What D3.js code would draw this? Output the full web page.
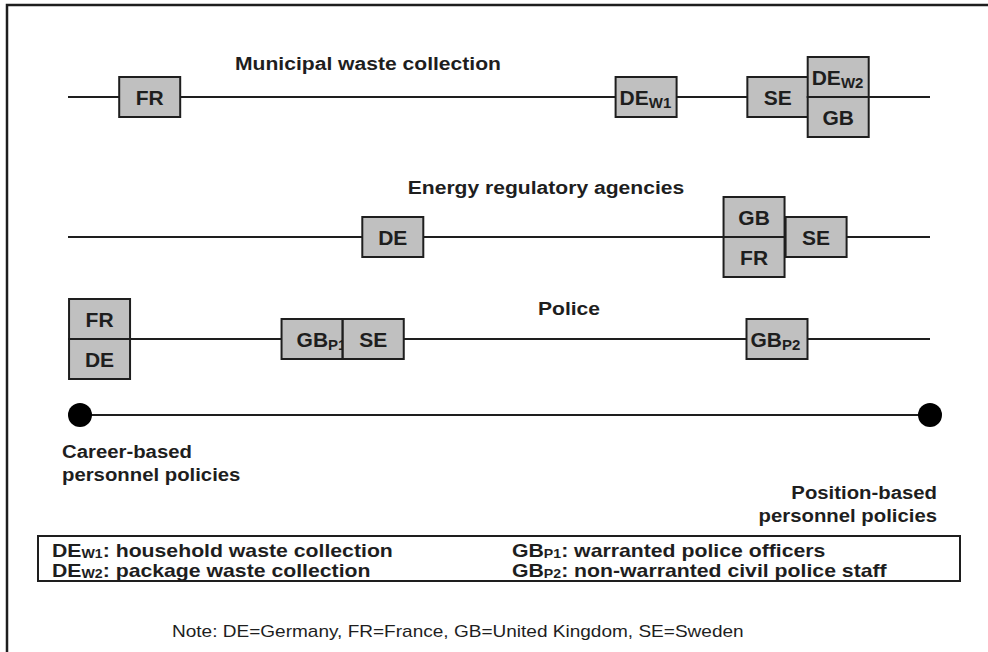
<!DOCTYPE html>
<html>
<head>
<meta charset="utf-8">
<script src="https://cdn.jsdelivr.net/npm/d3@7"></script>
<style>
  body { margin: 0; background: #fff; }
  svg { display: block; font-family: 'Liberation Sans', Arial, sans-serif; }
</style>
</head>
<body>
<div id="chart"></div>
<script>
// sectors, top to bottom
const sectors = ['Municipal waste collection', 'Energy regulatory agencies', 'Police']

// country boxes: sector index, code, subscript, place on the career (0) .. position (100) scale,
// stack: -1 upper half, 0 on the line, 1 lower half
const boxes = [
  { sector: 0, code: 'FR', sub: '', pos: 8.2, stack: 0 },
  { sector: 0, code: 'DE', sub: 'W1', pos: 66.6, stack: 0 },
  { sector: 0, code: 'SE', sub: '', pos: 82.1, stack: 0 },
  { sector: 0, code: 'DE', sub: 'W2', pos: 89.2, stack: -1 },
  { sector: 0, code: 'GB', sub: '', pos: 89.2, stack: 1 },
  { sector: 1, code: 'DE', sub: '', pos: 36.8, stack: 0 },
  { sector: 1, code: 'GB', sub: '', pos: 79.3, stack: -1 },
  { sector: 1, code: 'FR', sub: '', pos: 79.3, stack: 1 },
  { sector: 1, code: 'SE', sub: '', pos: 86.6, stack: 0 },
  { sector: 2, code: 'FR', sub: '', pos: 2.3, stack: -1 },
  { sector: 2, code: 'DE', sub: '', pos: 2.3, stack: 1 },
  { sector: 2, code: 'GB', sub: 'P1', pos: 27.3, stack: 0 },
  { sector: 2, code: 'SE', sub: '', pos: 34.5, stack: 0 },
  { sector: 2, code: 'GB', sub: 'P2', pos: 82.0, stack: 0 }
]

const poles = [['Career-based', 'personnel policies'], ['Position-based', 'personnel policies']]

const legendLeft = [['DE', 'W1', ': household waste collection'], ['DE', 'W2', ': package waste collection']]
const legendRight = [['GB', 'P1', ': warranted police officers'], ['GB', 'P2', ': non-warranted civil police staff']]

const note = 'Note: DE=Germany, FR=France, GB=United Kingdom, SE=Sweden'

const width = 988
const height = 652
const ink = '#1e1e1e'
const boxW = 61
const boxH = 40

const svg = d3.select('#chart').append('svg')
  .attr('width', width)
  .attr('height', height)

// the source figure's lettering is a touch wide, so text is stretched sideways a little
const wide = (x, y, s) => `translate(${x},${y}) scale(${s},1)`

// frame (runs off the right and bottom edge)
svg.append('path')
  .attr('d', `M7,${height + 5}V5H${width + 5}`)
  .attr('fill', 'none')
  .attr('stroke', ink)
  .attr('stroke-width', 2.5)

const x = d3.scaleLinear().domain([0, 100]).range([80, 930])
const rowY = [97, 237, 339]
const titleX = [368, 546, 569]
const titleY = [70, 194, 315]

// sector lines + titles
svg.selectAll('.track')
  .data(sectors)
  .enter()
  .append('line')
  .attr('x1', 68)
  .attr('x2', 930)
  .attr('y1', (d, i) => rowY[i])
  .attr('y2', (d, i) => rowY[i])
  .attr('stroke', ink)
  .attr('stroke-width', 2)

svg.selectAll('.title')
  .data(sectors)
  .enter()
  .append('text')
  .attr('transform', (d, i) => wide(titleX[i], titleY[i], 1.11))
  .attr('text-anchor', 'middle')
  .attr('font-weight', 'bold')
  .attr('font-size', '19px')
  .attr('fill', ink)
  .text(d => d)

// boxes (later ones sit on top, so SE cuts off the tail of GB-P1 like in the source)
const g = svg.selectAll('.box')
  .data(boxes)
  .enter()
  .append('g')
  .attr('transform', d => {
    const y0 = rowY[d.sector]
    const top = d.stack === 0 ? y0 - boxH / 2 : (d.stack < 0 ? y0 - boxH : y0)
    return `translate(${x(d.pos) - boxW / 2},${top})`
  })

g.append('rect')
  .attr('width', boxW)
  .attr('height', boxH)
  .attr('fill', '#c0c0c0')
  .attr('stroke', ink)
  .attr('stroke-width', 2)

const label = g.append('text')
  .attr('x', d => d.sub ? (d.sub === 'P1' ? 15 : 4) : boxW / 2)
  .attr('y', boxH / 2 + 7.5)
  .attr('text-anchor', d => d.sub ? 'start' : 'middle')
  .attr('font-weight', 'bold')
  .attr('font-size', '21px')
  .attr('fill', ink)
label.append('tspan').text(d => d.code)
label.append('tspan')
  .attr('font-size', '15px')
  .attr('dy', 3)
  .text(d => d.sub)

// career / position axis
svg.append('line')
  .attr('x1', x(0))
  .attr('x2', x(100))
  .attr('y1', 415)
  .attr('y2', 415)
  .attr('stroke', ink)
  .attr('stroke-width', 2)

svg.selectAll('.pole')
  .data(poles)
  .enter()
  .append('circle')
  .attr('cx', (d, i) => x(i * 100))
  .attr('cy', 415)
  .attr('r', 12)
  .attr('fill', '#000')

svg.selectAll('.poleText')
  .data(poles)
  .enter()
  .append('text')
  .attr('transform', (d, i) => i ? wide(937, 499, 1.13) : wide(62, 458, 1.13))
  .attr('text-anchor', (d, i) => i ? 'end' : 'start')
  .attr('font-weight', 'bold')
  .attr('font-size', '18px')
  .attr('fill', ink)
  .selectAll('tspan')
  .data(d => d)
  .enter()
  .append('tspan')
  .attr('x', 0)
  .attr('dy', (d, i) => i ? 23 : 0)
  .text(d => d)

// legend box
svg.append('rect')
  .attr('x', 38)
  .attr('y', 536)
  .attr('width', 922)
  .attr('height', 45)
  .attr('fill', 'none')
  .attr('stroke', ink)
  .attr('stroke-width', 2)

function legendCol (rows, left) {
  const t = svg.selectAll(null)
    .data(rows)
    .enter()
    .append('text')
    .attr('transform', (d, i) => wide(left, 557 + i * 20, 1.18))
    .attr('font-weight', 'bold')
    .attr('font-size', '18px')
    .attr('fill', ink)
  t.append('tspan').text(d => d[0])
  t.append('tspan').attr('font-size', '12px').attr('dy', 1).text(d => d[1])
  t.append('tspan').attr('dy', -1).text(d => d[2])
}
legendCol(legendLeft, 52)
legendCol(legendRight, 512)

svg.append('text')
  .attr('transform', wide(172, 637, 1.12))
  .attr('font-size', '17px')
  .attr('fill', ink)
  .text(note)
</script>
</body>
</html>
